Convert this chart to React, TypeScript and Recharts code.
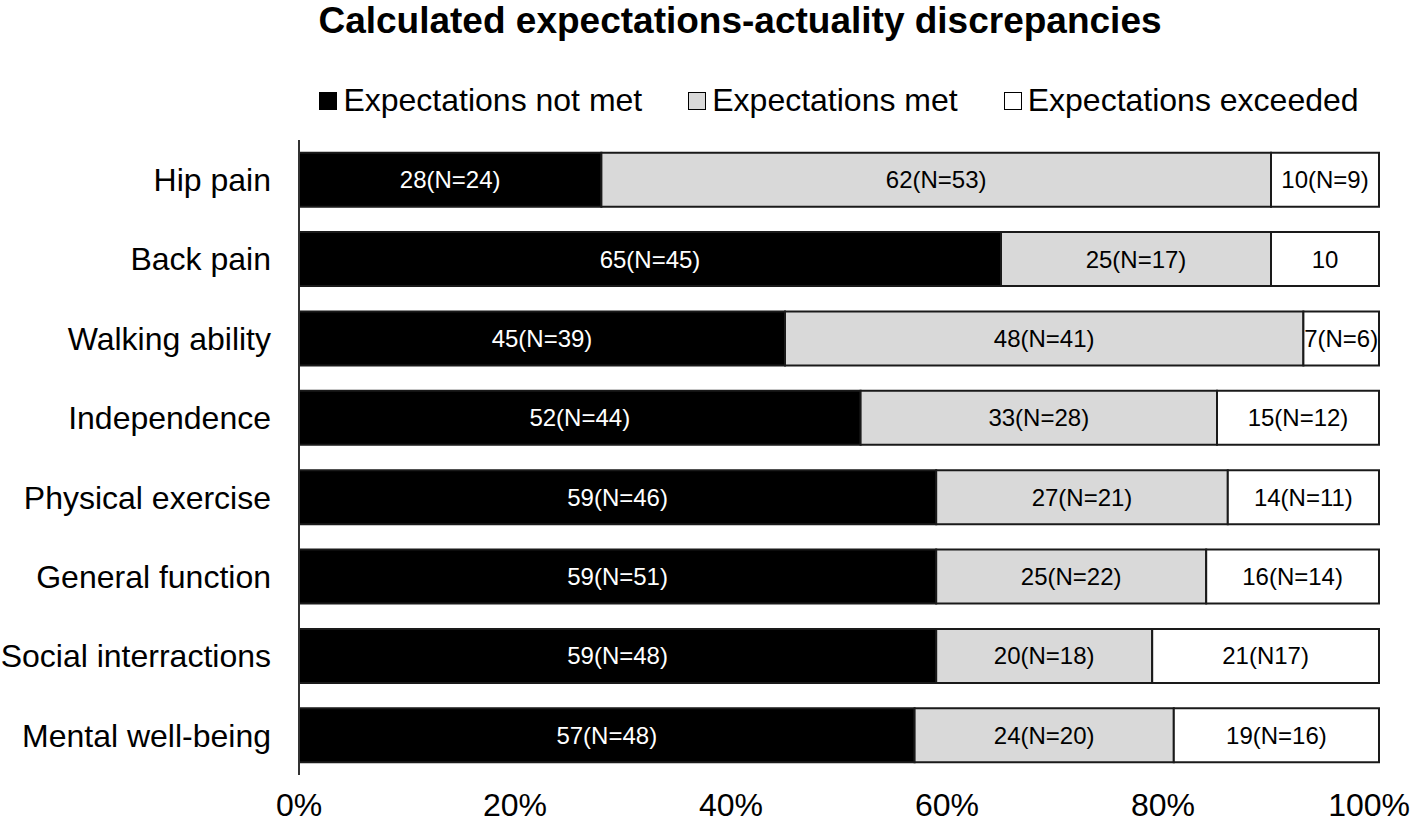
import { BarChart, Bar, XAxis, YAxis, LabelList } from "recharts";

const categories = [
  "Hip pain",
  "Back pain",
  "Walking ability",
  "Independence",
  "Physical exercise",
  "General function",
  "Social interractions",
  "Mental well-being",
];

const notMet = [28, 65, 45, 52, 59, 59, 59, 57];
const met = [62, 25, 48, 33, 27, 25, 20, 24];
const exceeded = [10, 10, 7, 15, 14, 16, 21, 19];

const notMetLabels = ["28(N=24)", "65(N=45)", "45(N=39)", "52(N=44)", "59(N=46)", "59(N=51)", "59(N=48)", "57(N=48)"];
const metLabels = ["62(N=53)", "25(N=17)", "48(N=41)", "33(N=28)", "27(N=21)", "25(N=22)", "20(N=18)", "24(N=20)"];
const exceededLabels = ["10(N=9)", "10", "7(N=6)", "15(N=12)", "14(N=11)", "16(N=14)", "21(N17)", "19(N=16)"];

const xTicks = [0, 20, 40, 60, 80, 100];

const SERIES = [
  { key: "notMet", labelKey: "notMetLabel", name: "Expectations not met", fill: "#000000", text: "#ffffff" },
  { key: "met", labelKey: "metLabel", name: "Expectations met", fill: "#d9d9d9", text: "#000000" },
  { key: "exceeded", labelKey: "exceededLabel", name: "Expectations exceeded", fill: "#ffffff", text: "#000000" },
];

const data = categories.map((name, i) => ({
  name,
  notMet: notMet[i],
  met: met[i],
  exceeded: exceeded[i],
  notMetLabel: notMetLabels[i],
  metLabel: metLabels[i],
  exceededLabel: exceededLabels[i],
}));

const FONT = "'Liberation Sans', Arial, sans-serif";

// last tick is pulled in so it stays inside the picture, like the original
function XTick(props: any) {
  const { x, y, payload } = props;
  const last = payload.value === 100;
  return (
    <text
      x={last ? 1410 : x}
      y={y}
      dy={31}
      textAnchor={last ? "end" : "middle"}
      fill="#000"
      fontSize={32}
      fontFamily={FONT}
    >
      {`${payload.value}%`}
    </text>
  );
}

function LegendBox() {
  return (
    <div
      style={{
        position: "absolute",
        top: 82,
        left: 299,
        width: 1080,
        display: "flex",
        justifyContent: "center",
        gap: 46,
        fontFamily: FONT,
        fontSize: 32,
        color: "#000",
      }}
    >
      {SERIES.map((s) => (
        <div key={s.key} style={{ display: "flex", alignItems: "center" }}>
          <span
            style={{
              display: "inline-block",
              width: 16,
              height: 16,
              background: s.fill,
              border: "1.5px solid #000",
              marginRight: 6,
            }}
          />
          <span>{s.name}</span>
        </div>
      ))}
    </div>
  );
}

export default function App() {
  return (
    <div style={{ position: "absolute", left: 0, top: 0, width: 1418, height: 825, background: "#fff" }}>
      <div
        style={{
          position: "absolute",
          left: 0,
          width: 1480,
          top: 0,
          textAlign: "center",
          fontFamily: FONT,
          fontWeight: "bold",
          fontSize: 37,
          color: "#000",
        }}
      >
        Calculated expectations-actuality discrepancies
      </div>
      <LegendBox />
      <BarChart
        width={1418}
        height={825}
        data={data}
        layout="vertical"
        margin={{ top: 140, right: 39, bottom: 10, left: 0 }}
        barCategoryGap="16%"
      >
        <XAxis
          type="number"
          domain={[0, 100]}
          ticks={xTicks}
          axisLine={false}
          tickLine={false}
          tickSize={0}
          tickMargin={10}
          height={40}
          interval={0}
          tick={<XTick />}
        />
        <YAxis
          type="category"
          dataKey="name"
          width={299}
          axisLine={{ stroke: "#333", strokeWidth: 2 }}
          tickLine={false}
          tickSize={0}
          tickMargin={28}
          interval={0}
          tick={{ fill: "#000", fontSize: 32, fontFamily: FONT }}
        />
        {SERIES.map((s) => (
          <Bar
            key={s.key}
            dataKey={s.key}
            name={s.name}
            stackId="a"
            fill={s.fill}
            stroke="#1a1a1a"
            strokeWidth={2}
            isAnimationActive={false}
          >
            <LabelList
              dataKey={s.labelKey}
              position="center"
              fill={s.text}
              style={{ fontSize: 24, fontFamily: FONT }}
            />
          </Bar>
        ))}
      </BarChart>
    </div>
  );
}
